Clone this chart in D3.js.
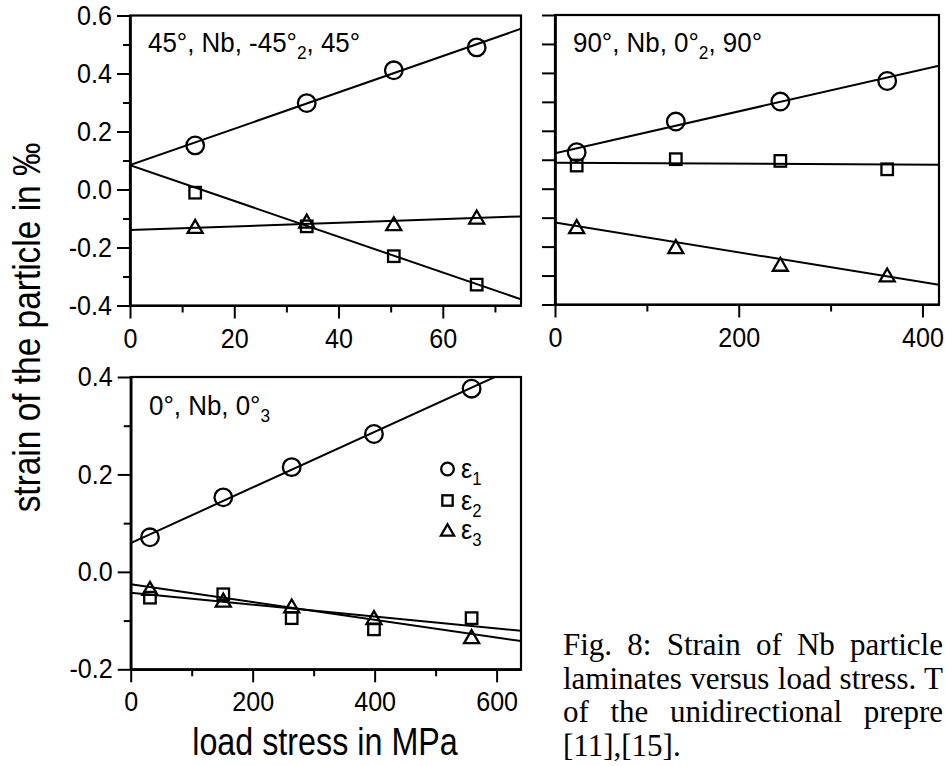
<!DOCTYPE html>
<html>
<head>
<meta charset="utf-8">
<script src="https://cdn.jsdelivr.net/npm/d3@7"></script>
<style>
  html, body { margin: 0; padding: 0; background: #fff; }
  svg { display: block; }
</style>
</head>
<body>
<svg id="fig" width="945" height="766"></svg>
<script>
// ---- data: strain of Nb particles (‰) vs. load stress (MPa) ----

// 45°, Nb, -45°2, 45° laminate
const stressA = [12.5, 33.9, 50.6, 66.5];
const eps1A = [0.152, 0.298, 0.411, 0.490];
const eps2A = [-0.011, -0.127, -0.230, -0.328];
const eps3A = [-0.127, -0.109, -0.118, -0.095];
// linear fits [intercept, slope] for ε1, ε2, ε3
const fitA = [[0.084, 0.00627], [0.084, -0.00617], [-0.140, 0.00063]];

// 90°, Nb, 0°2, 90° laminate
const stressB = [23.6, 131.5, 245.3, 361.6];
const eps1B = [0.126, 0.232, 0.301, 0.372];
const eps2B = [0.080, 0.102, 0.096, 0.067];
const eps3B = [-0.131, -0.200, -0.261, -0.298];
const fitB = [[0.122, 0.000725], [0.090, -0.0000167], [-0.117, -0.000514]];

// 0°, Nb, 0°3 laminate
const stressC = [31.6, 151.8, 264.0, 398.9, 559.0];
const eps1C = [0.071, 0.153, 0.215, 0.283, 0.376];
const eps2C = [-0.053, -0.046, -0.095, -0.118, -0.095];
const eps3C = [-0.034, -0.058, -0.070, -0.094, -0.133];
const fitC = [[0.059, 0.000571], [-0.043, -0.000122], [-0.0255, -0.000182]];

// tick values
const yMajorTop = [-0.4, -0.2, 0.0, 0.2, 0.4, 0.6];
const yMinorTop = [-0.3, -0.1, 0.1, 0.3, 0.5];
const yMajorC = [-0.2, 0.0, 0.2, 0.4];
const yMinorC = [-0.1, 0.1, 0.3];
const xMajorA = [0, 20, 40, 60];
const xMinorA = [10, 30, 50, 70];
const xMajorB = [0, 200, 400];
const xMinorB = [100, 300];
const xMajorC = [0, 200, 400, 600];
const xMinorC = [100, 300, 500];

// texts
const seriesNames = ["ε", "ε", "ε"];
const seriesSubs = ["1", "2", "3"];
const titleA = ["45°, Nb, -45°", "2", ", 45°"];
const titleB = ["90°, Nb, 0°", "2", ", 90°"];
const titleC = ["0°, Nb, 0°", "3", ""];
const yTitle = "strain of the particle in ‰";
const xTitle = "load stress in MPa";
const captionLines = [
  "Fig. 8: Strain of Nb particle",
  "laminates versus load stress. T",
  "of the unidirectional prepre",
  "[11],[15]."
];

// ---- drawing ----
const SANS = "'Liberation Sans', Arial, sans-serif";
const SERIF = "'Liberation Serif', 'Times New Roman', serif";
const svg = d3.select("#fig");

// squeeze a text horizontally around its anchor point (condensed look)
function condense(sel, sx) {
  sel.each(function () {
    const t = d3.select(this);
    const x = +t.attr("x") || 0, y = +t.attr("y") || 0;
    const prev = t.attr("transform") || "";
    t.attr("x", null).attr("y", null)
      .attr("transform", `${prev} translate(${x},${y}) scale(${sx},1)`);
  });
}

const panels = [
  { id: "A", xr: [130, 521], yr: [305.5, 15.5], xd: [0, 75], yd: [-0.4, 0.6],
    xMaj: xMajorA, xMin: xMinorA, yMaj: yMajorTop, yMin: yMinorTop, yLab: true,
    xs: stressA, ys: [eps1A, eps2A, eps3A], fit: fitA, title: titleA, tpos: [148, 52] },
  { id: "B", xr: [555, 939], yr: [304.5, 15], xd: [0, 418], yd: [-0.4, 0.6],
    xMaj: xMajorB, xMin: xMinorB, yMaj: yMajorTop, yMin: yMinorTop, yLab: false,
    xs: stressB, ys: [eps1B, eps2B, eps3B], fit: fitB, title: titleB, tpos: [573, 52] },
  { id: "C", xr: [130.7, 521], yr: [669.3, 377], xd: [0, 640], yd: [-0.2, 0.4],
    xMaj: xMajorC, xMin: xMinorC, yMaj: yMajorC, yMin: yMinorC, yLab: true,
    xs: stressC, ys: [eps1C, eps2C, eps3C], fit: fitC, title: titleC, tpos: [149, 415] }
];

const MARK_STROKE = 2.3;
function drawMarker(g, kind, cx, cy, s) {
  if (kind === 0) {
    g.append("circle").attr("cx", cx).attr("cy", cy).attr("r", 8.8 * s)
      .attr("fill", "none").attr("stroke", "#000").attr("stroke-width", MARK_STROKE);
  } else if (kind === 1) {
    const a = 11.5 * s;
    g.append("rect").attr("x", cx - a / 2).attr("y", cy - a / 2).attr("width", a).attr("height", a)
      .attr("fill", "none").attr("stroke", "#000").attr("stroke-width", MARK_STROKE);
  } else {
    const w = 15 * s, h = 13 * s;
    const p = d3.path();
    p.moveTo(cx, cy - h / 2);
    p.lineTo(cx + w / 2, cy + h / 2);
    p.lineTo(cx - w / 2, cy + h / 2);
    p.closePath();
    g.append("path").attr("d", p.toString())
      .attr("fill", "none").attr("stroke", "#000").attr("stroke-width", MARK_STROKE)
      .attr("stroke-linejoin", "miter");
  }
}

function styleAxis(g) {
  g.attr("font-family", SANS).attr("font-size", 27);
  g.selectAll("path.domain").attr("stroke", "#000").attr("stroke-width", 2.2);
  g.selectAll(".tick line").attr("stroke", "#000").attr("stroke-width", 2);
  g.selectAll(".tick text").attr("fill", "#000").call(condense, 0.93);
}

const fmtY = d => d.toFixed(1);

panels.forEach(P => {
  const x = d3.scaleLinear().domain(P.xd).range(P.xr);
  const y = d3.scaleLinear().domain(P.yd).range(P.yr);
  const g = svg.append("g").attr("class", "panel-" + P.id);

  const clipId = "clip" + P.id;
  svg.append("clipPath").attr("id", clipId).append("rect")
    .attr("x", P.xr[0]).attr("y", P.yr[1])
    .attr("width", P.xr[1] - P.xr[0]).attr("height", P.yr[0] - P.yr[1]);

  // frame
  g.append("rect").attr("x", P.xr[0]).attr("y", P.yr[1])
    .attr("width", P.xr[1] - P.xr[0]).attr("height", P.yr[0] - P.yr[1])
    .attr("fill", "none").attr("stroke", "#000").attr("stroke-width", 2.2);

  // y axis
  const yMajLen = 13, yMinLen = P.yLab ? 7 : 13;
  g.append("g").attr("transform", `translate(${P.xr[0]},0)`)
    .call(d3.axisLeft(y).tickValues(P.yMaj).tickSize(yMajLen).tickSizeOuter(0).tickPadding(5)
      .tickFormat(P.yLab ? fmtY : () => ""))
    .call(styleAxis);
  g.append("g").attr("transform", `translate(${P.xr[0]},0)`)
    .call(d3.axisLeft(y).tickValues(P.yMin).tickSize(yMinLen).tickSizeOuter(0).tickFormat(() => ""))
    .call(styleAxis);

  // x axis
  g.append("g").attr("transform", `translate(0,${P.yr[0]})`)
    .call(d3.axisBottom(x).tickValues(P.xMaj).tickSize(13).tickSizeOuter(0).tickPadding(10)
      .tickFormat(d => String(d)))
    .call(styleAxis);
  g.append("g").attr("transform", `translate(0,${P.yr[0]})`)
    .call(d3.axisBottom(x).tickValues(P.xMin).tickSize(7).tickSizeOuter(0).tickFormat(() => ""))
    .call(styleAxis);

  // fit lines
  const line = d3.line().x(d => x(d[0])).y(d => y(d[1]));
  const lg = g.append("g").attr("clip-path", `url(#${clipId})`);
  P.fit.forEach(([b, m]) => {
    const pts = P.xd.map(v => [v, b + m * v]);
    lg.append("path").attr("d", line(pts))
      .attr("fill", "none").attr("stroke", "#000").attr("stroke-width", 2);
  });

  // data markers
  const mg = g.append("g");
  P.ys.forEach((vals, k) => {
    vals.forEach((v, i) => drawMarker(mg, k, x(P.xs[i]), y(v), 1));
  });

  // panel title with subscript
  const t = g.append("text").attr("x", P.tpos[0]).attr("y", P.tpos[1])
    .attr("font-family", SANS).attr("font-size", 27).attr("fill", "#000");
  t.append("tspan").text(P.title[0]);
  t.append("tspan").attr("font-size", 18).attr("dy", 7).text(P.title[1]);
  if (P.title[2]) t.append("tspan").attr("dy", -7).text(P.title[2]);
  t.call(condense, 0.96);

  // legend in the lower panel
  if (P.id === "C") {
    const legY = [469, 500.5, 530];
    const leg = g.append("g");
    legY.forEach((ly, k) => {
      drawMarker(leg, k, 447.5, ly, k === 0 ? 0.72 : (k === 1 ? 0.9 : 0.88));
      const lt = leg.append("text").attr("x", 461).attr("y", ly + 9)
        .attr("font-family", SANS).attr("font-size", 27).attr("fill", "#000");
      lt.append("tspan").text(seriesNames[k]);
      lt.append("tspan").attr("font-size", 18).attr("dy", 7).text(seriesSubs[k]);
      lt.call(condense, 0.93);
    });
  }
});

// axis titles
svg.append("text")
  .attr("transform", "translate(27,327.5) rotate(-90) scale(0.88,1)")
  .attr("text-anchor", "middle").attr("dominant-baseline", "central")
  .attr("font-family", SANS).attr("font-size", 38).attr("fill", "#000")
  .text(yTitle);
svg.append("text")
  .attr("x", 325).attr("y", 755).attr("text-anchor", "middle")
  .attr("font-family", SANS).attr("font-size", 38).attr("fill", "#000")
  .text(xTitle)
  .call(condense, 0.85);

// figure caption: justified lines reaching the right edge
const capBase = [655, 689, 722, 756];
const capRight = [943, 943, 943, null];
captionLines.forEach((s, i) => {
  const t = svg.append("text").attr("x", 563).attr("y", capBase[i])
    .attr("font-family", SERIF).attr("font-size", 31).attr("fill", "#000")
    .text(s);
  if (capRight[i] !== null) {
    const gaps = s.split(" ").length - 1;
    const natural = t.node().getComputedTextLength();
    const extra = (capRight[i] - 563 - natural) / gaps;
    t.attr("word-spacing", extra);
  }
});
</script>
</body>
</html>
